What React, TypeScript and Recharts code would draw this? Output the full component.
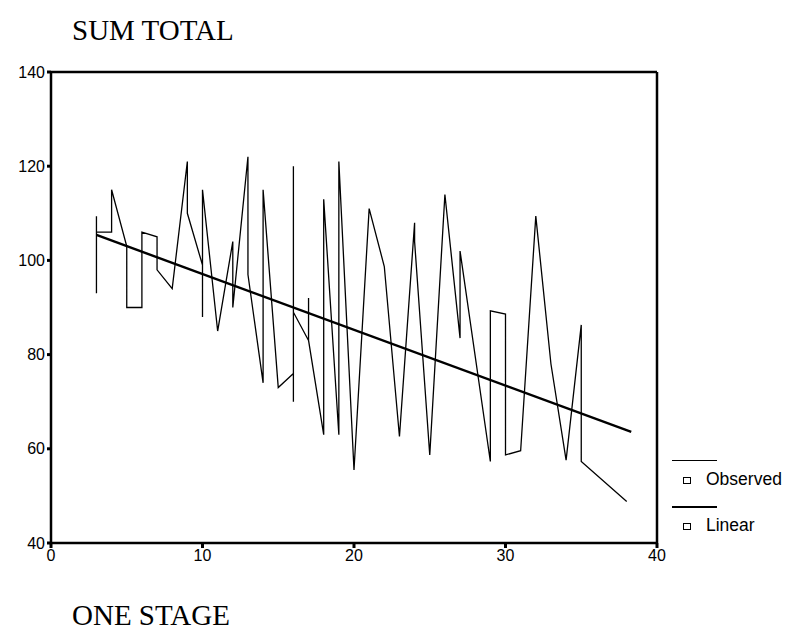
import { LineChart, Line, XAxis, YAxis, ReferenceLine } from "recharts";

// observed points, in the order the line joins them
const obsX = [
  3, 3, 3, 4, 4, 5, 5, 6, 6, 7, 7, 8, 9, 9, 10, 10, 10, 11, 12, 12, 13, 13, 14, 14, 15,
  16, 16, 16, 16, 17, 17, 17, 18, 18, 19, 19, 20, 21, 22, 23, 24, 24, 25, 26, 27, 27,
  29, 29, 30, 30, 31, 32, 33, 34, 35, 35, 38,
];
const obsY = [
  109.4, 93, 106, 106, 115, 103, 90, 90, 106, 105, 98, 94, 121, 110, 99, 88, 115, 85, 104, 90, 122, 97, 74, 115, 73,
  76, 70, 120, 89, 83, 92, 83, 63, 113, 63, 121, 55.5, 111, 98.7, 62.6, 108, 104, 58.7, 114, 83.5, 102,
  57.3, 89.3, 88.6, 58.7, 59.6, 109.4, 78, 57.6, 86.3, 57.3, 48.8,
];

// fitted line end points
const linX = [3, 38.3];
const linY = [105.4, 63.6];

const xTicks = [0, 10, 20, 30, 40];
const yTicks = [40, 60, 80, 100, 120, 140];

const observed = obsX.map((x, i) => ({ x, y: obsY[i] }));
const linear = linX.map((x, i) => ({ x, y: linY[i] }));

const sans = "Liberation Sans, Arial, sans-serif";
const serif = "Liberation Serif, Times New Roman, serif";
const tickFont = { fontSize: 16, fill: "#000", fontFamily: sans };

function LegendRow({ label, top, thick }: { label: string; top: number; thick: number }) {
  return (
    <>
      <div style={{ position: "absolute", left: 672, top, width: 45, height: thick, background: "#000" }} />
      <div style={{ position: "absolute", left: 683, top: top + 17, width: 6, height: 5, border: "1.5px solid #000" }} />
      <div style={{ position: "absolute", left: 706, top: top + 10, fontSize: 17.5, fontFamily: sans, lineHeight: "18px" }}>
        {label}
      </div>
    </>
  );
}

export default function App() {
  return (
    <div style={{ position: "absolute", left: 0, top: 0, width: 789, height: 641, background: "#fff" }}>
      <div style={{ position: "absolute", left: 72, top: 14, fontFamily: serif, fontSize: 29 }}>SUM TOTAL</div>
      <LineChart width={789} height={641} data={observed} margin={{ top: 72, right: 132, left: 11, bottom: 68 }}>
        <XAxis
          type="number"
          dataKey="x"
          domain={[0, 40]}
          ticks={xTicks}
          tick={tickFont}
          height={30}
          tickSize={5}
          tickMargin={2}
          axisLine={{ stroke: "#000", strokeWidth: 2.5 }}
          tickLine={{ stroke: "#000", strokeWidth: 3 }}
        />
        <YAxis
          type="number"
          dataKey="y"
          domain={[40, 140]}
          ticks={yTicks}
          tick={tickFont}
          width={40}
          tickSize={4}
          tickMargin={2}
          axisLine={{ stroke: "#000", strokeWidth: 2.5 }}
          tickLine={{ stroke: "#000", strokeWidth: 3 }}
        />
        <ReferenceLine y={140} stroke="#000" strokeWidth={2.5} />
        <ReferenceLine x={40} stroke="#000" strokeWidth={2.5} />
        <Line data={observed} dataKey="y" type="linear" stroke="#000" strokeWidth={1.3} dot={false} isAnimationActive={false} />
        <Line data={linear} dataKey="y" type="linear" stroke="#000" strokeWidth={2.4} dot={false} isAnimationActive={false} />
      </LineChart>
      <LegendRow label="Observed" top={460} thick={1} />
      <LegendRow label="Linear" top={506} thick={2} />
      <div style={{ position: "absolute", left: 72, top: 599, fontFamily: serif, fontSize: 29 }}>ONE STAGE</div>
    </div>
  );
}
